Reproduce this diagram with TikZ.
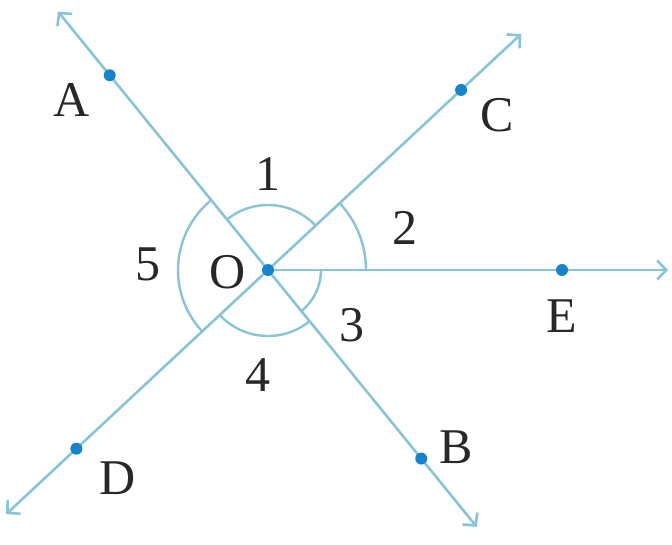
\documentclass[tikz,border=0pt]{standalone}
\usepackage{fontspec}
\setmainfont{Liberation Serif}
\usetikzlibrary{arrows.meta,calc}
\definecolor{lineblue}{RGB}{135,196,216}
\definecolor{dotblue}{RGB}{22,132,204}
\definecolor{txt}{RGB}{40,40,40}
\begin{document}
\begin{tikzpicture}[x=1pt,y=1pt,
  geoline/.style={draw=lineblue,line width=2.6pt,
    arrows={Straight Barb[length=9pt,width=19pt]-Straight Barb[length=9pt,width=19pt]}},
  georay/.style={draw=lineblue,line width=2.6pt,
    arrows={-Straight Barb[length=9pt,width=19pt]}},
  anglearc/.style={draw=lineblue,line width=2.4pt},
  pt/.style={circle,fill=dotblue,inner sep=0pt,minimum size=12pt},
  lbl/.style={inner sep=0pt,text=txt,font=\fontsize{50}{60}\selectfont}]
\useasboundingbox (0,0) rectangle (672,544);
\coordinate (O) at (268,274);
% line ends
\coordinate (tl) at ($(O)+(129.1:333)$);
\coordinate (br) at ($(O)+(-50.9:331)$);
\coordinate (tr) at ($(O)+(43:346)$);
\coordinate (bl) at ($(O)+(223:358)$);
\coordinate (er) at ($(O)+(0:400)$);
% arcs
\draw[anglearc] ($(O)+(43:65)$) arc[start angle=43,end angle=129.1,radius=65];
\draw[anglearc] ($(O)+(0:98)$) arc[start angle=0,end angle=43,radius=98];
\draw[anglearc] ($(O)+(-50.9:53)$) arc[start angle=-50.9,end angle=0,radius=53];
\draw[anglearc] ($(O)+(223:66)$) arc[start angle=223,end angle=309.1,radius=66];
\draw[anglearc] ($(O)+(129.1:90)$) arc[start angle=129.1,end angle=223,radius=90];
% lines
\draw[geoline] (tl) -- (br);
\draw[geoline] (bl) -- (tr);
\draw[georay] (O) -- (er);
% points
\node[pt] (pO) at (O) {};
\node[pt] (pA) at ($(O)+(129.1:251)$) {};
\node[pt] (pB) at ($(O)+(-50.9:243)$) {};
\node[pt] (pC) at ($(O)+(43:264)$) {};
\node[pt] (pD) at ($(O)+(223:262)$) {};
\node[pt] (pE) at ($(O)+(0:294)$) {};
% labels
\node[lbl] (lA) at (72,444) {A};
\node[lbl] (lC) at (497,429) {C};
\node[lbl] (lE) at (562,228) {E};
\node[lbl] (lB) at (456,97) {B};
\node[lbl] (lD) at (118,66) {D};
\node[lbl] (lO) at (228,272) {O};
\node[lbl] (l1) at (268,370) {1};
\node[lbl] (l2) at (405,316) {2};
\node[lbl] (l3) at (352,219) {3};
\node[lbl] (l4) at (258,169) {4};
\node[lbl] (l5) at (148,280) {5};
\end{tikzpicture}
\end{document}
